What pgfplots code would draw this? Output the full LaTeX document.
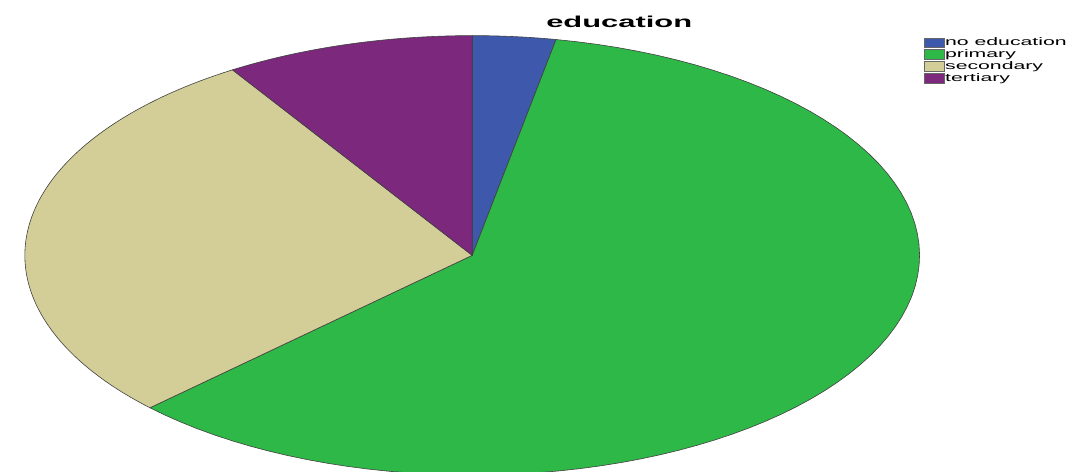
\documentclass[border=0pt]{standalone}
\usepackage{pgfplots}
\usepackage{pgfplotstable}
\pgfplotsset{compat=1.18}
\usepackage{fontspec}
\setmainfont{Liberation Sans}
\newfontfamily\titlefont[FakeStretch=1.95]{Liberation Sans}
\newfontfamily\legfont[FakeStretch=1.95]{Liberation Sans}
\definecolor{cBlue}{HTML}{3E58AC}
\definecolor{cGreen}{HTML}{2EB848}
\definecolor{cTan}{HTML}{D3CE97}
\definecolor{cPurple}{HTML}{7C287D}
\pgfplotstableread{
label value
noeducation 3.0
primary 59.8
secondary 28.2
tertiary 9.0
}\edu
\begin{document}
\pgfplotstablegetelem{0}{value}\of\edu \pgfmathsetmacro{\aB}{3.6*\pgfplotsretval}
\pgfplotstablegetelem{1}{value}\of\edu \pgfmathsetmacro{\aC}{\aB+3.6*\pgfplotsretval}
\pgfplotstablegetelem{2}{value}\of\edu \pgfmathsetmacro{\aD}{\aC+3.6*\pgfplotsretval}
\pgfplotstablegetelem{3}{value}\of\edu \pgfmathsetmacro{\aE}{\aD+3.6*\pgfplotsretval}
\begin{tikzpicture}
\begin{axis}[
  scale only axis, width=1074bp, height=476bp,
  xmin=0, xmax=1074, ymin=0, ymax=476,
  axis lines=none, ticks=none,
  legend style={at={(axis cs:922,439)}, anchor=north west, draw=none, fill=none,
    font=\legfont\fontsize{11bp}{11bp}\selectfont, inner sep=0pt,
    row sep=0pt, nodes={inner sep=1.2bp}},
  legend cell align=left,
  legend image code/.code={\draw[#1] (0bp,-5bp) rectangle (20bp,5bp);},
  every axis plot/.append style={draw=black!75, line width=0.6bp, samples=80, variable=\t},
]
\addlegendimage{fill=cBlue, draw=black!60, line width=0.4bp}
\addlegendentry{no education}
\addlegendimage{fill=cGreen, draw=black!60, line width=0.4bp}
\addlegendentry{primary}
\addlegendimage{fill=cTan, draw=black!60, line width=0.4bp}
\addlegendentry{secondary}
\addlegendimage{fill=cPurple, draw=black!60, line width=0.4bp}
\addlegendentry{tertiary}
\addplot[forget plot, fill=cBlue, domain=0:\aB] ({466+452*sin(\t)},{218+222*cos(\t)}) -- (axis cs:466,218) -- cycle;
\addplot[forget plot, fill=cGreen, domain=\aB:\aC] ({466+452*sin(\t)},{218+222*cos(\t)}) -- (axis cs:466,218) -- cycle;
\addplot[forget plot, fill=cTan, domain=\aC:\aD] ({466+452*sin(\t)},{218+222*cos(\t)}) -- (axis cs:466,218) -- cycle;
\addplot[forget plot, fill=cPurple, domain=\aD:\aE] ({466+452*sin(\t)},{218+222*cos(\t)}) -- (axis cs:466,218) -- cycle;
\coordinate (T) at (axis cs:614.5,448);
\coordinate (SW) at (rel axis cs:0,0);
\coordinate (NE) at (rel axis cs:1,1);
\end{axis}
\node[anchor=base, inner sep=0pt] at (T) {\titlefont\bfseries\fontsize{16bp}{19bp}\selectfont education};
\pgfresetboundingbox
\path (SW) rectangle (NE);
\end{tikzpicture}
\end{document}
